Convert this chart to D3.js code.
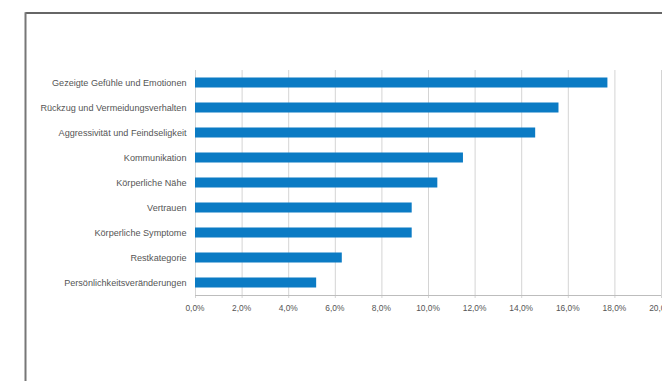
<!DOCTYPE html>
<html><head><meta charset="utf-8">
<script src="https://cdn.jsdelivr.net/npm/d3@7"></script>
<style>body{margin:0;background:#fff;}svg{display:block;}</style>
</head><body>
<script>
const categories = ["Gezeigte Gefühle und Emotionen","Rückzug und Vermeidungsverhalten","Aggressivität und Feindseligkeit","Kommunikation","Körperliche Nähe","Vertrauen","Körperliche Symptome","Restkategorie","Persönlichkeitsveränderungen"];
const values = [17.7, 15.6, 14.6, 11.5, 10.4, 9.3, 9.3, 6.3, 5.2];
const tickValues = [0,2,4,6,8,10,12,14,16,18,20];

const W = 662, H = 381;
const svg = d3.select("body").append("svg").attr("width", W).attr("height", H);

// frame
svg.append("line").attr("x1",25.5).attr("x2",W).attr("y1",13).attr("y2",13).attr("stroke","#333").attr("stroke-width",1.6);
svg.append("line").attr("x1",25.5).attr("x2",25.5).attr("y1",12.2).attr("y2",H).attr("stroke","#777").attr("stroke-width",2);

const x = d3.scaleLinear().domain([0,20]).range([195,661]);
const y = d3.scaleBand().domain(categories).range([70,295]).paddingInner(0.6).paddingOuter(0.3);

// gridlines
svg.append("g").selectAll("line").data(tickValues).join("line")
  .attr("x1",d=>x(d)+0.5).attr("x2",d=>x(d)+0.5).attr("y1",70).attr("y2",298)
  .attr("stroke","#d4d4d4").attr("stroke-width",1);

// axis baseline
svg.append("line").attr("x1",x(0)).attr("x2",x(20)).attr("y1",295.5).attr("y2",295.5).attr("stroke","#bdbdbd");

// bars
svg.append("g").selectAll("rect").data(values).join("rect")
  .attr("x",x(0)).attr("y",(d,i)=>y(categories[i]))
  .attr("width",d=>x(d)-x(0)).attr("height",y.bandwidth())
  .attr("fill","#0b7bc4");

// category labels
svg.append("g").selectAll("text").data(categories).join("text")
  .attr("x",186.5).attr("y",d=>y(d)+y.bandwidth()/2).attr("dy","0.35em")
  .attr("text-anchor","end").attr("font-family","Liberation Sans, Arial, sans-serif")
  .attr("font-size",9.1).attr("fill","#555").text(d=>d);

// tick labels
const fmt = d => d.toFixed(1).replace(".", ",") + "%";
svg.append("g").selectAll("text").data(tickValues).join("text")
  .attr("x",d=>x(d)).attr("y",311).attr("text-anchor","middle")
  .attr("font-family","Liberation Sans, Arial, sans-serif")
  .attr("font-size",8.4).attr("fill","#555").text(fmt);
</script>
</body></html>
